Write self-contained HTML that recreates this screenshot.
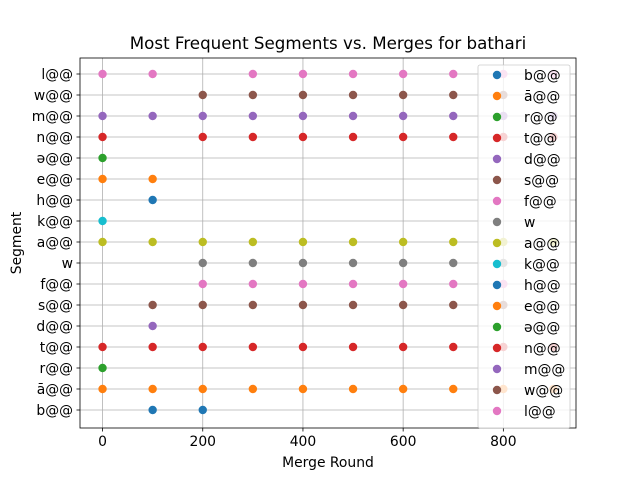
<!DOCTYPE html>
<html><head><meta charset="utf-8"><style>body{margin:0;background:#fff}svg{display:block;font-family:"DejaVu Sans","Liberation Sans",sans-serif}</style></head>
<body>
<svg id="chart" width="640" height="480"></svg>
<script>
const categories=["b@@","ā@@","r@@","t@@","d@@","s@@","f@@","w","a@@","k@@","h@@","e@@","ə@@","n@@","m@@","l@@"];
const yOrder=["b@@","ā@@","r@@","t@@","d@@","s@@","f@@","w","a@@","k@@","h@@","e@@","ə@@","n@@","m@@","w@@","l@@"];
const legendOrder=["b@@","ā@@","r@@","t@@","d@@","s@@","f@@","w","a@@","k@@","h@@","e@@","ə@@","n@@","m@@","w@@","l@@"];
const colors=["#1f77b4","#ff7f0e","#2ca02c","#d62728","#9467bd","#8c564b","#e377c2","#7f7f7f","#bcbd22","#17becf"];
const rounds={
"b@@":[100,200],
"ā@@":[0,100,200,300,400,500,600,700,800,900],
"r@@":[0],
"t@@":[0,100,200,300,400,500,600,700,800,900],
"d@@":[100],
"s@@":[100,200,300,400,500,600,700,800],
"f@@":[200,300,400,500,600,700,800],
"w":[200,300,400,500,600,700,800],
"a@@":[0,100,200,300,400,500,600,700,800,900],
"k@@":[0],
"h@@":[100],
"e@@":[0,100],
"ə@@":[0],
"n@@":[0,200,300,400,500,600,700,800,900],
"m@@":[0,100,200,300,400,500,600,700,800,900],
"w@@":[200,300,400,500,600,700,800],
"l@@":[0,100,300,400,500,600,700,800,900]
};
const xTicks=[0,200,400,600,800];
const NS="http://www.w3.org/2000/svg";
const svg=document.getElementById("chart");
const L=80,R=576,T=58,B=428,xmin=-45,xmax=945;
const xs=v=>L+(v-xmin)/(xmax-xmin)*(R-L);
const ys=i=>410-i*(410-74)/(yOrder.length-1);
function el(t,a,txt){const e=document.createElementNS(NS,t);for(const k in a)e.setAttribute(k,a[k]);if(txt!==undefined)e.textContent=txt;svg.appendChild(e);return e;}
xTicks.forEach(v=>{const g=el("line",{x1:xs(v),x2:xs(v),y1:T,y2:B,stroke:"#b0b0b0","stroke-width":0.8});

});
yOrder.forEach((c,i)=>{const g=el("line",{x1:L,x2:R,y1:ys(i),y2:ys(i),stroke:"#b0b0b0","stroke-width":0.8});

});
legendOrder.forEach((c,si)=>{const col=colors[si%10];const yi=yOrder.indexOf(c);
(rounds[c]||[]).forEach(r=>{const p=el("circle",{cx:xs(r),cy:ys(yi),r:4.2,fill:col});

});});
const fr=el("rect",{x:L,y:T,width:R-L,height:B-T,fill:"none",stroke:"#000","stroke-width":0.8});


xTicks.forEach(v=>{el("line",{x1:xs(v),x2:xs(v),y1:B,y2:B+3.5,stroke:"#000","stroke-width":0.8});
const t=el("text",{x:xs(v),y:B+18,"font-size":13.9,"text-anchor":"middle"},v);

});
yOrder.forEach((c,i)=>{el("line",{x1:L-3.5,x2:L,y1:ys(i),y2:ys(i),stroke:"#000","stroke-width":0.8});
const t=el("text",{x:L-7,y:ys(i)+5,"font-size":13.9,"text-anchor":"end"},c);

});
const ti=el("text",{x:328,y:49,"font-size":16.7,"text-anchor":"middle"},"Most Frequent Segments vs. Merges for bathari");


const xl=el("text",{x:328,y:467,"font-size":13.9,"text-anchor":"middle"},"Merge Round");


const yl=el("text",{x:21,y:243,"font-size":13.9,"text-anchor":"middle",transform:"rotate(-90 21 243)"},"Segment");


const lg=el("rect",{x:478,y:65,width:92,height:363,rx:2,fill:"#fff","fill-opacity":0.8,stroke:"#ccc","stroke-width":0.8});


legendOrder.forEach((c,i)=>{const y=75+i*21;
const m=el("circle",{cx:497,cy:y,r:4.2,fill:colors[i%10]});


const t=el("text",{x:524,y:y+5,"font-size":13.9},c);

});
</script>
</body></html>
